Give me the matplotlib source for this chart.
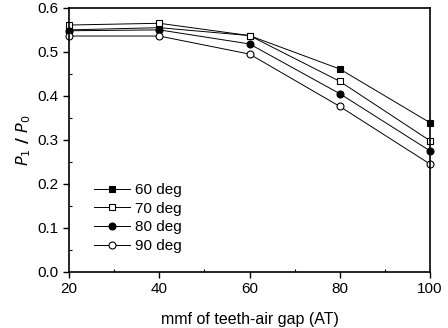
import matplotlib
matplotlib.use('agg')
import matplotlib.pyplot as plt
from matplotlib.ticker import MultipleLocator

plt.rcParams['font.family'] = ['Liberation Sans', 'DejaVu Sans']

mmf = [20, 40, 60, 80, 100]
ratio_60 = [0.550, 0.555, 0.537, 0.461, 0.339]
ratio_70 = [0.561, 0.565, 0.537, 0.433, 0.298]
ratio_80 = [0.548, 0.550, 0.518, 0.405, 0.275]
ratio_90 = [0.536, 0.536, 0.495, 0.376, 0.245]

labels = ['60 deg', '70 deg', '80 deg', '90 deg']
markers = ['s', 's', 'o', 'o']
fills = ['black', 'white', 'black', 'white']

fig = plt.figure(figsize=(4.48, 3.28), dpi=100)
ax = fig.add_axes([0.154, 0.171, 0.806, 0.805])

for y, lab, m, fc in zip([ratio_60, ratio_70, ratio_80, ratio_90], labels, markers, fills):
    ax.plot(mmf, y, color='black', lw=0.7, marker=m, markersize=5,
            markerfacecolor=fc, markeredgecolor='black', markeredgewidth=0.8,
            label=lab, clip_on=False)

ax.set_xlim(20, 100)
ax.set_ylim(0.0, 0.6)
ax.xaxis.set_major_locator(MultipleLocator(20))
ax.xaxis.set_minor_locator(MultipleLocator(10))
ax.yaxis.set_major_locator(MultipleLocator(0.1))
ax.yaxis.set_minor_locator(MultipleLocator(0.05))
ax.tick_params(which='major', direction='out', length=4, width=1, labelsize=11)
ax.tick_params(which='minor', direction='in', length=2.5, width=0.8)
for s in ax.spines.values():
    s.set_linewidth(1.2)

ax.set_xlabel('mmf of teeth-air gap (AT)', fontsize=11.5, labelpad=11)
ax.set_ylabel(r'$\mathbf{\mathit{P}_{\mathit{1}}\ /\ \mathit{P}_{\mathit{0}}}$', fontsize=11.5, labelpad=3)

ax.legend(loc='lower left', bbox_to_anchor=(0.03, 0.02), frameon=False,
          fontsize=11, handlelength=2.4, handletextpad=0.3, labelspacing=0.3)

fig.savefig('out.png', dpi=100)
